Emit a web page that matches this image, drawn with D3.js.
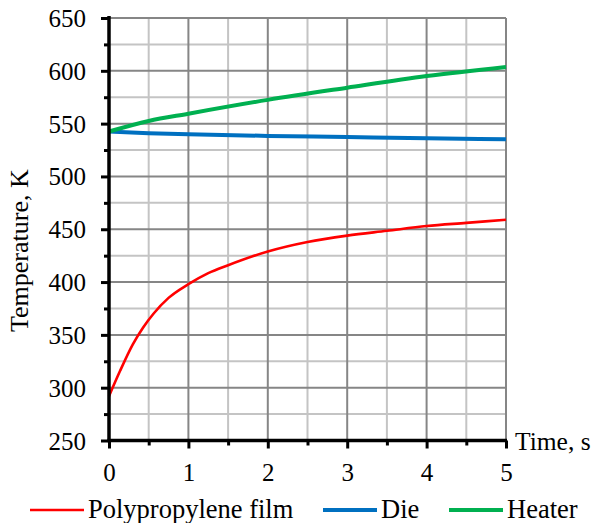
<!DOCTYPE html>
<html>
<head>
<meta charset="utf-8">
<script src="https://cdn.jsdelivr.net/npm/d3@7"></script>
<style>
  html, body { margin: 0; padding: 0; background: #fff; }
  svg text { font-family: "Liberation Serif", "Times New Roman", serif; fill: #000; }
</style>
</head>
<body>
<svg id="chart" width="596" height="523"></svg>
<script>
// Time axis (s) and temperature axis (K)
const xTicks = [0, 1, 2, 3, 4, 5];
const yTicks = [250, 300, 350, 400, 450, 500, 550, 600, 650];

// Polypropylene film temperature
const filmTime = [0, 0.14, 0.3, 0.43, 0.56, 0.75, 1, 1.25, 1.5, 2, 2.5, 3, 3.5, 4, 4.5, 5];
const filmTemp = [292, 316, 341, 357, 370, 385, 398, 408.5, 416, 429, 438, 444, 448.5, 453, 456, 459];

// Die temperature
const dieTime = [0, 0.5, 1, 2, 3, 4, 5];
const dieTemp = [542.5, 541, 540, 538.4, 537.3, 536.1, 535.3];

// Heater temperature
const heaterTime = [0, 0.5, 1, 2, 3, 4, 5];
const heaterTemp = [542.5, 552.5, 559.4, 572.5, 584, 595, 603.7];

const seriesNames = ["Polypropylene film", "Die", "Heater"];
const seriesColors = ["#ff0000", "#0070c0", "#00b050"];
const seriesWidths = [2.6, 4, 4];

const serif = "'Liberation Serif', 'Times New Roman', serif";
const svg = d3.select("#chart");
const plotL = 109, plotR = 506, plotT = 18, plotB = 440.5;

const x = d3.scaleLinear().domain([0, 5]).range([plotL, plotR]);
const y = d3.scaleLinear().domain([250, 650]).range([plotB, plotT]);

const minorX = d3.range(0.5, 5, 1);
const minorY = d3.range(275, 650, 50);

// Grid: light minor lines, darker major lines
const grid = svg.append("g");
grid.selectAll("line.vminor").data(minorX).join("line")
  .attr("x1", d => x(d)).attr("x2", d => x(d))
  .attr("y1", plotT).attr("y2", plotB)
  .attr("stroke", "#c4c4c4").attr("stroke-width", 2);
grid.selectAll("line.hminor").data(minorY).join("line")
  .attr("x1", plotL).attr("x2", plotR)
  .attr("y1", d => y(d)).attr("y2", d => y(d))
  .attr("stroke", "#c4c4c4").attr("stroke-width", 2);
grid.selectAll("line.vmajor").data(xTicks.slice(1)).join("line")
  .attr("x1", d => x(d)).attr("x2", d => x(d))
  .attr("y1", plotT).attr("y2", plotB)
  .attr("stroke", "#868686").attr("stroke-width", 2);
grid.selectAll("line.hmajor").data(yTicks.slice(1)).join("line")
  .attr("x1", plotL).attr("x2", plotR)
  .attr("y1", d => y(d)).attr("y2", d => y(d))
  .attr("stroke", "#868686").attr("stroke-width", 2);

// Series lines
const series = [
  filmTime.map((t, i) => [t, filmTemp[i]]),
  dieTime.map((t, i) => [t, dieTemp[i]]),
  heaterTime.map((t, i) => [t, heaterTemp[i]])
];
const line = d3.line().x(d => x(d[0])).y(d => y(d[1])).curve(d3.curveMonotoneX);
svg.append("g").selectAll("path").data(series).join("path")
  .attr("d", line)
  .attr("fill", "none")
  .attr("stroke", (d, i) => seriesColors[i])
  .attr("stroke-width", (d, i) => seriesWidths[i])
  .attr("stroke-linejoin", "round");

const fmt = d3.format("d");

// Y axis with major and minor ticks
const yAxisMinor = d3.axisLeft(y).tickValues(minorY).tickSize(5).tickFormat("");
const yAxis = d3.axisLeft(y).tickValues(yTicks).tickSize(8).tickPadding(15).tickFormat(fmt);
const gyMinor = svg.append("g").attr("transform", `translate(${plotL},0)`).call(yAxisMinor);
const gy = svg.append("g").attr("transform", `translate(${plotL},0)`).call(yAxis);
[gy, gyMinor].forEach(g => {
  g.attr("font-family", serif).attr("font-size", 25);
  g.select(".domain").remove();
  g.selectAll("line").attr("stroke", "#000").attr("stroke-width", 3);
});
gy.selectAll("text").attr("dy", "0.34em");
svg.append("line").attr("x1", plotL).attr("x2", plotL).attr("y1", plotT - 2).attr("y2", plotB + 1.5)
  .attr("stroke", "#000").attr("stroke-width", 3.5);

// X axis with major and minor ticks
const xAxisMinor = d3.axisBottom(x).tickValues(minorX).tickSize(5).tickFormat("");
const xAxis = d3.axisBottom(x).tickValues(xTicks).tickSize(8).tickPadding(15).tickFormat(fmt);
const gxMinor = svg.append("g").attr("transform", `translate(0,${plotB})`).call(xAxisMinor);
const gx = svg.append("g").attr("transform", `translate(0,${plotB})`).call(xAxis);
[gx, gxMinor].forEach(g => {
  g.attr("font-family", serif).attr("font-size", 25);
  g.select(".domain").remove();
  g.selectAll("line").attr("stroke", "#000").attr("stroke-width", 3);
});
svg.append("line").attr("x1", plotL - 1.5).attr("x2", plotR + 1).attr("y1", plotB).attr("y2", plotB)
  .attr("stroke", "#000").attr("stroke-width", 3.5);

// Axis titles
svg.append("text")
  .attr("transform", "translate(28,332) rotate(-90)")
  .attr("text-anchor", "start")
  .attr("font-family", serif)
  .attr("font-size", 26)
  .text("Temperature, K");
svg.append("text")
  .attr("x", 515).attr("y", 450)
  .attr("font-family", serif)
  .attr("font-size", 25.5)
  .text("Time, s");

// Legend
const legendX = [30, 323, 449];
const legend = svg.append("g").selectAll("g").data(seriesNames).join("g")
  .attr("transform", (d, i) => `translate(${legendX[i]},510)`);
legend.append("line")
  .attr("x1", 0).attr("x2", 54).attr("y1", 0).attr("y2", 0)
  .attr("stroke", (d, i) => seriesColors[i])
  .attr("stroke-width", (d, i) => seriesWidths[i]);
legend.append("text")
  .attr("x", 58).attr("y", 7.5)
  .attr("font-family", serif)
  .attr("font-size", 26.5)
  .text(d => d);
</script>
</body>
</html>
